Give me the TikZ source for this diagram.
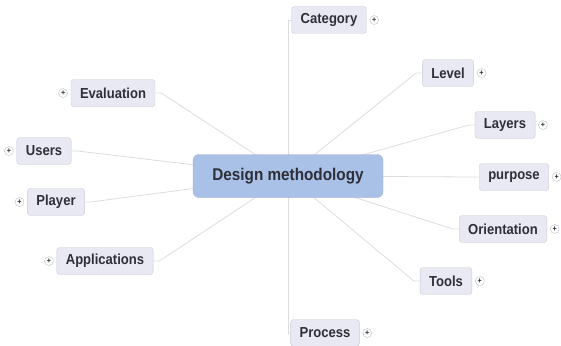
\documentclass[tikz,border=0pt]{standalone}
\usepackage{fontspec}
\setmainfont{Liberation Sans}[FakeStretch=0.9]
\usetikzlibrary{positioning,backgrounds}

\definecolor{topicfill}{HTML}{E8E9F2}
\definecolor{topicline}{HTML}{C9CBD8}
\definecolor{rootfill}{HTML}{A9C0E7}
\definecolor{rootline}{HTML}{98AED6}
\definecolor{branchline}{HTML}{DCDCDC}
\definecolor{labeltext}{HTML}{2E2F38}

\tikzset{
  topic/.style={draw=topicline, fill=topicfill, rounded corners=3pt,
    minimum height=27pt, inner xsep=9pt, text=labeltext,
    font=\bfseries\fontsize{14.5}{14.5}\selectfont},
  root/.style={draw=rootline, fill=rootfill, rounded corners=6pt,
    minimum width=190pt, minimum height=43pt, text=labeltext,
    font=\bfseries\fontsize{17}{17}\selectfont},
  expander/.style={circle, draw=gray!50, fill=white, inner sep=0pt,
    minimum size=9pt, text=labeltext, font=\bfseries\fontsize{8}{8}\selectfont},
  branch/.style={draw=branchline, line width=0.8pt}
}

\begin{document}
\begin{tikzpicture}[x=1pt,y=-1pt]
      \useasboundingbox (0,0) rectangle (561,345);
      % central topic
      \node[root] (dm) at (288,176) {Design methodology};
      % topics on the right
      \node[topic] (cat) at (329,20) {Category};
      \node[topic] (lvl) at (448,73) {Level};
      \node[topic] (lay) at (505,125) {Layers};
      \node[topic] (purp) at (514,177) {purpose};
      \node[topic] (orient) at (503,229) {Orientation};
      \node[topic] (tools) at (446,281) {Tools};
      \node[topic] (proc) at (325,333) {Process};
      % topics on the left
      \node[topic] (eval) at (113,93) {Evaluation};
      \node[topic] (users) at (44,151) {Users};
      \node[topic] (player) at (56,202) {Player};
      \node[topic] (apps) at (105,261) {Applications};
      % expand buttons
      \foreach \t in {cat,lvl,lay,purp,orient,tools,proc}
        \node[expander,right=3pt of \t] (\t plus) {+};
      \foreach \t in {eval,users,player,apps}
        \node[expander,left=3pt of \t] (\t plus) {+};
      % branches from the centre, behind the boxes
      \begin{scope}[on background layer]
        \draw[branch] (dm.center) -- (dm.center |- cat.west) -- (cat.west);
        \draw[branch] (dm.center) -- (dm.center |- proc.west) -- (proc.west);
        \foreach \t in {lvl,lay,purp,orient,tools}
          \draw[branch] (dm.center) -- ([xshift=-6pt]\t.west) -- (\t.west);
        \foreach \t in {eval,users,player,apps}
          \draw[branch] (dm.center) -- ([xshift=6pt]\t.east) -- (\t.east);
      \end{scope}
\end{tikzpicture}
\end{document}
